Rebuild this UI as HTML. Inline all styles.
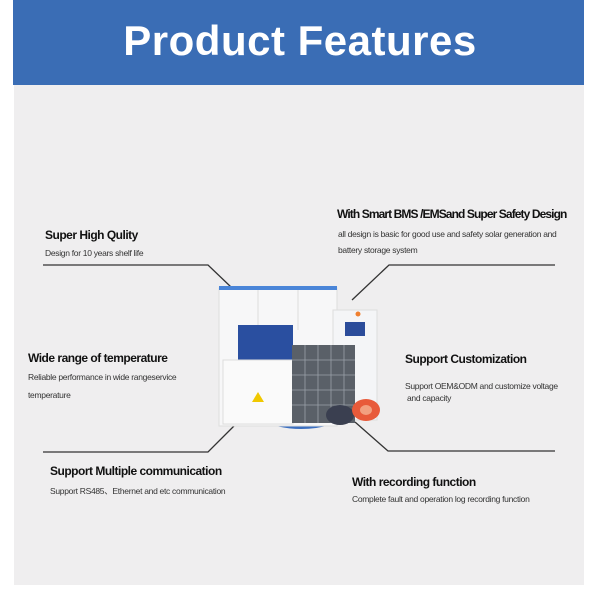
<!DOCTYPE html>
<html><head><style>
body{margin:0;width:600px;height:600px;background:#fff;position:relative;overflow:hidden;font-family:"Liberation Sans",sans-serif}
.t{position:absolute;white-space:nowrap;color:#111}
.h{font-weight:bold;font-size:12px;letter-spacing:-0.5px}
.s{font-size:8.5px;color:#333;letter-spacing:-0.3px}
</style></head><body>
<div style="position:absolute;left:13px;top:0;width:571px;height:85px;background:#3a6db5"></div>
<div class="t" style="left:0;width:600px;text-align:center;top:17px;color:#fff;font-weight:bold;font-size:42px;letter-spacing:0.5px">Product Features</div>
<div style="position:absolute;left:14px;top:85px;width:570px;height:500px;background:#efeeef"></div>
<svg width="600" height="600" style="position:absolute;left:0;top:0">
<g stroke="#333" stroke-width="1.3" fill="none">
<polyline points="43,265 208,265 231,287"/>
<polyline points="43,452 208,452 237,423"/>
<polyline points="555,265 389,265 352,300"/>
<polyline points="555,451 388,451 355,422"/>
</g>
<path d="M238 408 Q300 445 360 410" stroke="#3b6fc0" stroke-width="4" fill="none"/>
<rect x="219" y="288" width="118" height="138" fill="#f7f7f8" stroke="#ddd"/>
<rect x="219" y="286" width="118" height="4" fill="#4a85d8"/>
<line x1="258" y1="290" x2="258" y2="330" stroke="#ddd"/><line x1="298" y1="290" x2="298" y2="330" stroke="#ddd"/>
<rect x="238" y="325" width="55" height="38" fill="#2a4fa0"/>
<rect x="223" y="360" width="70" height="64" fill="#fafafa" stroke="#ddd"/>
<polygon points="258,392 252,402 264,402" fill="#f0c800"/>
<rect x="333" y="310" width="44" height="110" fill="#f4f5f7" stroke="#ddd"/>
<rect x="345" y="322" width="20" height="14" fill="#2b4c9a"/>
<circle cx="358" cy="314" r="2.5" fill="#f08030"/>
<rect x="292" y="345" width="63" height="78" fill="#5a6068"/>
<g stroke="#9aa0a8" stroke-width="0.8"><line x1="292" y1="360" x2="355" y2="360"/><line x1="292" y1="375" x2="355" y2="375"/><line x1="292" y1="390" x2="355" y2="390"/><line x1="292" y1="405" x2="355" y2="405"/><line x1="305" y1="345" x2="305" y2="423"/><line x1="318" y1="345" x2="318" y2="423"/><line x1="331" y1="345" x2="331" y2="423"/><line x1="344" y1="345" x2="344" y2="423"/></g>
<ellipse cx="340" cy="415" rx="14" ry="10" fill="#3a3f50"/>
<ellipse cx="366" cy="410" rx="14" ry="11" fill="#e85a3a"/>
<ellipse cx="366" cy="410" rx="6" ry="5" fill="#f2a080"/>
</svg>
<div class="t h" style="left:45px;top:228px">Super High Qulity</div>
<div class="t s" style="left:45px;top:248px">Design for 10 years shelf life</div>
<div class="t h" style="left:337px;top:207px;letter-spacing:-0.9px">With Smart BMS /EMSand Super Safety Design</div>
<div class="t s" style="left:338px;top:229px">all design is basic for good use and safety solar generation and</div>
<div class="t s" style="left:338px;top:245px">battery storage system</div>
<div class="t h" style="left:28px;top:351px">Wide range of temperature</div>
<div class="t s" style="left:28px;top:372px">Reliable performance in wide rangeservice</div>
<div class="t s" style="left:28px;top:390px">temperature</div>
<div class="t h" style="left:405px;top:352px">Support Customization</div>
<div class="t s" style="left:405px;top:381px">Support OEM&amp;ODM and customize voltage</div>
<div class="t s" style="left:407px;top:393px">and capacity</div>
<div class="t h" style="left:50px;top:464px">Support Multiple communication</div>
<div class="t s" style="left:50px;top:485px">Support RS485、Ethernet and etc communication</div>
<div class="t h" style="left:352px;top:475px">With recording function</div>
<div class="t s" style="left:352px;top:494px">Complete fault and operation log recording function</div>
</body></html>
